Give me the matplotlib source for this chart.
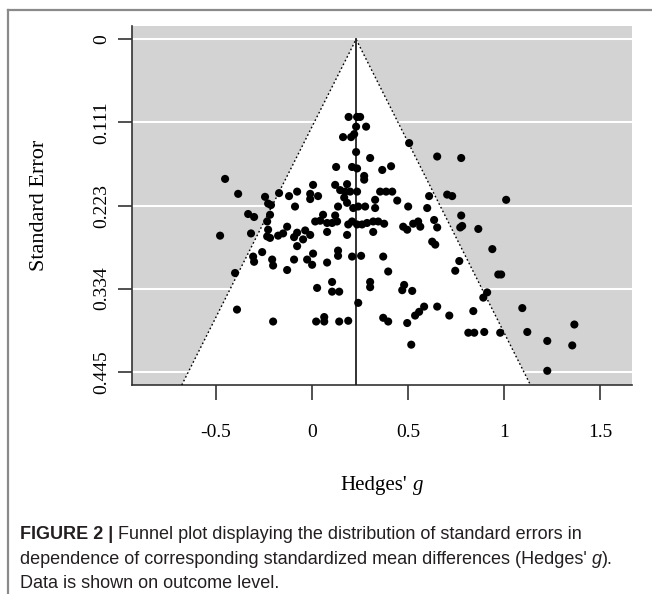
import matplotlib
matplotlib.use("Agg")
import matplotlib.pyplot as plt
from matplotlib.patches import Polygon
from matplotlib.lines import Line2D

# ---------------- data (Hedges' g, standard error) ----------------
hedges_g = [
    0.19, 0.234, 0.25, 0.229, 0.281, 0.161, 0.203, 0.219, 0.229, 0.302,
    0.505, 0.651, 0.776, 0.125, 0.208, 0.234, 0.271, 0.271, 0.365, 0.411,
    -0.453, -0.385, -0.245, -0.229, -0.214, -0.172, -0.120, -0.078, -0.089, 0.005,
    -0.010, -0.010, 0.031, 0.120, 0.182, 0.146, 0.172, 0.198, 0.234, 0.167,
    0.182, 0.354, 0.385, 0.417, 0.328, 0.443, 0.609, 0.703, 0.729, 1.010,
    0.135, 0.214, 0.240, 0.276, 0.328, 0.500, 0.599, 0.057, 0.120, 0.776,
    -0.333, -0.302, -0.219, 0.016, 0.042, 0.078, 0.104, 0.130, 0.188, 0.208,
    0.234, 0.260, 0.286, 0.318, 0.344, 0.375, 0.474, 0.495, 0.526, 0.552,
    0.563, 0.635, 0.651, 0.771, 0.781, 0.865, -0.234, -0.229, -0.234, -0.219,
    -0.177, -0.151, -0.130, -0.479, -0.318, -0.094, -0.078, -0.047, -0.036, -0.010,
    0.078, 0.182, 0.318, -0.078, 0.625, 0.641, 0.938, -0.260, -0.307, -0.302,
    -0.208, -0.203, -0.094, -0.026, 0.000, 0.005, 0.078, 0.135, 0.135, 0.208,
    0.255, 0.370, 0.766, -0.401, -0.130, 0.396, 0.745, 0.969, 0.984, 0.026,
    0.104, 0.104, 0.141, 0.302, 0.302, 0.240, 0.479, 0.469, 0.521, 0.891,
    0.911, -0.391, -0.203, 0.021, 0.063, 0.063, 0.141, 0.188, 0.583, 0.557,
    0.536, 0.651, 0.714, 0.839, 1.094, 0.370, 0.396, 0.495, 0.516, 0.813,
    0.844, 0.896, 0.979, 1.120, 1.224, 1.365, 1.354, 1.224,
]
std_error = [
    0.104, 0.104, 0.104, 0.117, 0.117, 0.131, 0.131, 0.127, 0.151, 0.159,
    0.139, 0.157, 0.159, 0.171, 0.171, 0.173, 0.183, 0.188, 0.175, 0.170,
    0.187, 0.207, 0.211, 0.220, 0.222, 0.206, 0.210, 0.204, 0.224, 0.195,
    0.207, 0.214, 0.210, 0.195, 0.194, 0.202, 0.204, 0.204, 0.204, 0.212,
    0.219, 0.204, 0.204, 0.204, 0.215, 0.216, 0.210, 0.208, 0.210, 0.215,
    0.224, 0.226, 0.224, 0.224, 0.226, 0.224, 0.226, 0.235, 0.236, 0.236,
    0.234, 0.238, 0.235, 0.244, 0.243, 0.246, 0.246, 0.244, 0.248, 0.244,
    0.248, 0.248, 0.246, 0.244, 0.244, 0.247, 0.251, 0.255, 0.247, 0.244,
    0.251, 0.242, 0.252, 0.252, 0.250, 0.254, 0.244, 0.255, 0.264, 0.266,
    0.263, 0.260, 0.251, 0.263, 0.260, 0.265, 0.259, 0.268, 0.256, 0.262,
    0.258, 0.262, 0.258, 0.277, 0.271, 0.275, 0.281, 0.285, 0.291, 0.298,
    0.295, 0.303, 0.295, 0.295, 0.302, 0.287, 0.299, 0.283, 0.290, 0.291,
    0.290, 0.291, 0.297, 0.313, 0.309, 0.311, 0.310, 0.315, 0.315, 0.333,
    0.325, 0.338, 0.338, 0.325, 0.332, 0.353, 0.329, 0.336, 0.337, 0.346,
    0.339, 0.362, 0.378, 0.378, 0.372, 0.378, 0.378, 0.377, 0.358, 0.365,
    0.370, 0.358, 0.370, 0.364, 0.360, 0.373, 0.378, 0.380, 0.409, 0.393,
    0.393, 0.392, 0.393, 0.392, 0.404, 0.382, 0.410, 0.444,
]
pooled_g = 0.229
se_max = 0.4452
y_ticks = [0.0, 0.1113, 0.2226, 0.3339, 0.4452]
y_tick_labels = ["0", "0.111", "0.223", "0.334", "0.445"]
x_ticks = [-0.5, 0, 0.5, 1, 1.5]
x_tick_labels = ["-0.5", "0", "0.5", "1", "1.5"]

W, H = 652, 594
fig = plt.figure(figsize=(W / 100, H / 100), dpi=100)
fig.patch.set_facecolor("white")

serif = "Liberation Serif"
sans = "Liberation Sans"

# frame around the figure panel (extends beyond right/bottom)
fig.add_artist(Line2D([8 / W, 8 / W], [0, 1 - 10 / H], transform=fig.transFigure,
                      color="#8a8a8a", lw=1.6))
fig.add_artist(Line2D([8 / W, 1], [1 - 10 / H, 1 - 10 / H], transform=fig.transFigure,
                      color="#8a8a8a", lw=1.6))

left, right, top, bottom = 132, 632, 26, 385
ax = fig.add_axes([left / W, 1 - bottom / H, (right - left) / W, (bottom - top) / H])
ax.set_facecolor("#d3d3d3")

ylo = -0.04 * se_max
yhi = se_max * 1.04
ax.set_xlim(-0.9375, 1.665)
ax.set_ylim(yhi, ylo)

# white gridlines
for yt in y_ticks:
    ax.axhline(yt, color="white", lw=1.5, zorder=1)

# funnel (95% pseudo-confidence region)
half = 1.96 * yhi
tri = Polygon([[pooled_g - half, yhi], [pooled_g, 0], [pooled_g + half, yhi]],
              closed=True, facecolor="white", edgecolor="none", zorder=2)
ax.add_patch(tri)
ax.plot([pooled_g - half, pooled_g, pooled_g + half], [yhi, 0, yhi],
        color="black", lw=1.0, ls=(0, (1.2, 1.8)), zorder=3)
ax.plot([pooled_g, pooled_g], [0, yhi], color="#222222", lw=1.3, zorder=3)

ax.scatter(hedges_g, std_error, s=34, color="black", edgecolors="none", zorder=4)

for s in ["top", "right"]:
    ax.spines[s].set_visible(False)
for s in ["left", "bottom"]:
    ax.spines[s].set_color("#333333")
    ax.spines[s].set_linewidth(1.2)

ax.set_yticks(y_ticks)
ax.set_yticklabels(y_tick_labels, rotation=90, va="center", fontfamily=serif, fontsize=14)
ax.set_xticks(x_ticks)
ax.set_xticklabels(x_tick_labels, fontfamily=serif, fontsize=14)
ax.tick_params(axis="y", length=10, width=1.2, color="#333333", pad=6)
ax.tick_params(axis="x", length=11, width=1.2, color="#333333", pad=17)

fig.text(40 / W, 1 - 205 / H, "Standard Error", rotation=90, ha="center", va="center",
         fontfamily=serif, fontsize=16)

renderer = fig.canvas.get_renderer()


def width_px(s, **kw):
    t = fig.text(0, 0, s, **kw)
    w = t.get_window_extent(renderer=renderer).width
    t.remove()
    return w


def draw_runs(x_px, y_px, runs, default_kw):
    x = x_px
    for s, extra in runs:
        kw = dict(default_kw)
        kw.update(extra)
        if s == " ":
            x += width_px("x x", **kw) - width_px("xx", **kw)
            continue
        t = fig.text(x / W, 1 - y_px / H, s, ha="left", va="baseline", **kw)
        x += t.get_window_extent(renderer=renderer).width


# x-axis title with italic g
ser_kw = dict(fontfamily=serif, fontsize=15, color="black")
w1 = width_px("Hedges'", **ser_kw)
ws = width_px("x x", **ser_kw) - width_px("xx", **ser_kw)
w2 = width_px("g", fontstyle="italic", **ser_kw)
tw = w1 + ws + w2
draw_runs(382 - tw / 2, 490, [("Hedges'", {}), (" ", {}), ("g", {"fontstyle": "italic"})], ser_kw)

# caption
cap_kw = dict(fontfamily=sans, fontsize=13, color="#231f20")
draw_runs(20, 539, [("FIGURE 2 |", {"fontweight": "bold"}), (" ", {}),
                    ("Funnel plot displaying the distribution of standard errors in", {})], cap_kw)
draw_runs(20, 564, [("dependence of corresponding standardized mean differences (Hedges' ", {}),
                    ("g", {"fontstyle": "italic"}), (").", {})], cap_kw)
draw_runs(20, 588, [("Data is shown on outcome level.", {})], cap_kw)

fig.savefig("out.png", dpi=100, facecolor="white")
